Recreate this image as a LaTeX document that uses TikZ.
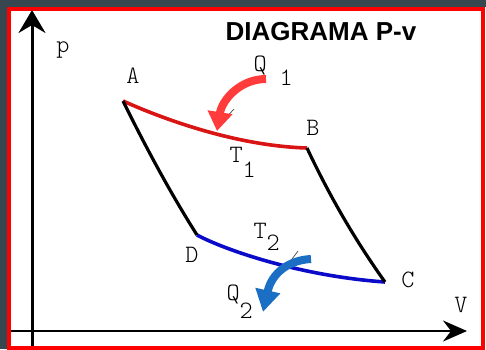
\documentclass[tikz,border=0pt]{standalone}
\usepackage{fontspec}
\newfontfamily\headfont{Liberation Sans}
\usetikzlibrary{arrows.meta}
\definecolor{frame}{HTML}{37474F}
\definecolor{border}{HTML}{FF0000}
\definecolor{hotred}{HTML}{D81414}
\definecolor{arrred}{HTML}{FF3B3B}
\definecolor{coldblue}{HTML}{0A0AC8}
\definecolor{arrblue}{HTML}{1A6FC4}
\newcommand{\lowsub}[2][13pt]{\raisebox{-#1}{#2}}
\tikzset{
  lbl/.style={font=\fontseries{l}\ttfamily\fontsize{25}{27}\selectfont,
              inner sep=0pt,anchor=base},
  sublbl/.style={font=\fontseries{l}\ttfamily\fontsize{25}{27}\selectfont,
                 inner sep=0pt,anchor=base west},
  yaxis/.style={draw=black,line width=3pt,
                -{Stealth[length=23pt,width=27pt,inset=8pt]}},
  xaxis/.style={draw=black,line width=2pt,
                -{Stealth[length=24pt,width=21pt,inset=8pt]}},
  adiab/.style={draw=black,line width=3.2pt,line join=round},
  hotline/.style={draw=hotred,line width=3.6pt},
  coldline/.style={draw=coldblue,line width=3.6pt},
  redarr/.style={draw=arrred,line width=8pt,
                 -{Triangle[length=19pt,width=24pt,fill=arrred]}},
  bluearr/.style={draw=arrblue,line width=8pt,
                  -{Triangle[length=22pt,width=24pt,fill=arrblue]}},
  tickmark/.style={draw=black!70,line width=0.7pt}
}
\begin{document}
\begin{tikzpicture}[x=1pt,y=-1pt]
    \useasboundingbox (0,0) rectangle (486,349);
    \fill[frame] (0,0) rectangle (486,349);
    \fill[white] (7,7) rectangle (486,349);
    \draw[border,line width=4pt] (9,9) rectangle (483,348);

    % axes
    \coordinate (yfoot) at (32,346);
    \coordinate (ytip) at (32,10);
    \coordinate (xfoot) at (11,331);
    \coordinate (xtip) at (467,331);
    \draw[yaxis] (yfoot) -- (ytip);
    \draw[xaxis] (xfoot) -- (xtip);

    \node[font=\headfont\bfseries\fontsize{26}{30}\selectfont,inner sep=0pt,
          anchor=base] (title) at (321,40) {DIAGRAMA P-v};

    % cycle corners
    \coordinate (A) at (123,101);
    \coordinate (B) at (307,148);
    \coordinate (C) at (385,282);
    \coordinate (D) at (197,235);

    \draw[hotline] (A) .. controls (170,122) and (240,146) .. (B);
    \draw[coldline] (D) .. controls (225,250) and (300,276) .. (C);
    \draw[adiab] (A) .. controls (145.5,146.5) and (169.5,191.5) .. (D);
    \draw[adiab] (B) .. controls (329,195) and (355,240) .. (C);

    % heat arrows
    \coordinate (q1start) at (266,79);
    \coordinate (q1end) at (217,131);
    \coordinate (q2start) at (311,259);
    \coordinate (q2end) at (263,312);
    \draw[tickmark] (224,120) -- (234,109);
    \draw[tickmark] (289,263) -- (298,251);
    \draw[redarr] (q1start) .. controls (240,79) and (222,100) .. (q1end);
    \draw[bluearr] (q2start) .. controls (290,260) and (272,272) .. (q2end);

    % labels
    \node[lbl] (lblp) at (63,52) {p};
    \node[lbl] (lblV) at (461,312) {V};
    \node[lbl] (lblA) at (133,83) {A};
    \node[lbl] (lblB) at (313,135) {B};
    \node[lbl] (lblC) at (408,287) {C};
    \node[lbl] (lblD) at (192,262) {D};
    \node[sublbl] (lblQ1) at (253.4,71) {Q\hspace{13pt}\lowsub[14pt]{1}};
    \node[sublbl] (lblT1) at (229.4,162) {T\lowsub[15pt]{1}};
    \node[sublbl] (lblT2) at (253.4,238) {T\lowsub[12pt]{2}};
    \node[sublbl] (lblQ2) at (226.4,300) {Q\lowsub[18pt]{2}};
\end{tikzpicture}
\end{document}
